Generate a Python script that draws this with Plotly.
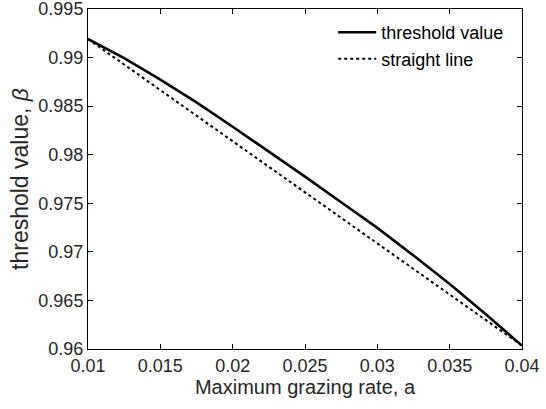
import plotly.graph_objects as go

# data
a_vals = [0.01, 0.0125, 0.015, 0.0175, 0.02, 0.0225, 0.025, 0.0275, 0.03, 0.0325, 0.035, 0.0375, 0.04]
threshold = [0.99191, 0.98994, 0.98773, 0.98538, 0.98288, 0.98032, 0.97775, 0.97510,
             0.97247, 0.96962, 0.96670, 0.96358, 0.96035]
straight_x = [0.01, 0.04]
straight_y = [0.99191, 0.96035]

x_ticks = [0.01, 0.015, 0.02, 0.025, 0.03, 0.035, 0.04]
x_ticktext = ["0.01", "0.015", "0.02", "0.025", "0.03", "0.035", "0.04"]
y_ticks = [0.96, 0.965, 0.97, 0.975, 0.98, 0.985, 0.99, 0.995]
y_ticktext = ["0.96", "0.965", "0.97", "0.975", "0.98", "0.985", "0.99", "0.995"]

FONT = "Liberation Sans, Arial, Helvetica, sans-serif"
TXT = "#262626"

fig = go.Figure()
fig.add_trace(go.Scatter(x=a_vals, y=threshold, mode="lines", name="threshold value",
                         line=dict(color="black", width=2.6)))
fig.add_trace(go.Scatter(x=straight_x, y=straight_y, mode="lines", name="straight line",
                         line=dict(color="black", width=2, dash="dot")))

axis_common = dict(showline=True, linecolor="black", linewidth=1, mirror="ticks",
                   ticks="inside", ticklen=5, tickcolor="black", showgrid=False,
                   zeroline=False, ticklabeloverflow="allow",
                   tickfont=dict(family=FONT, size=18, color=TXT))

eps = 1e-7
fig.update_xaxes(range=[0.01 - eps, 0.04 + eps], tickvals=x_ticks, ticktext=x_ticktext,
                 title=dict(text="Maximum grazing rate, a", font=dict(family=FONT, size=20, color=TXT),
                            standoff=5),
                 **axis_common)
fig.update_yaxes(range=[0.96 - eps, 0.995 + eps], tickvals=y_ticks, ticktext=y_ticktext,
                 title=dict(text="threshold value, <i>β</i>", font=dict(family=FONT, size=23, color=TXT),
                            standoff=3),
                 **axis_common)

fig.update_layout(
    width=546, height=409,
    margin=dict(l=88, r=24, t=9, b=60, autoexpand=False),
    plot_bgcolor="white", paper_bgcolor="white",
    showlegend=True,
    legend=dict(x=0.565, y=0.985, xanchor="left", yanchor="top",
                bgcolor="rgba(0,0,0,0)", borderwidth=0,
                font=dict(family=FONT, size=18, color="black"),
                tracegroupgap=0, itemwidth=38),
)

fig.write_html("out.html", config={"displayModeBar": False},
               post_script="document.body.style.margin='0';document.body.style.padding='0';")
